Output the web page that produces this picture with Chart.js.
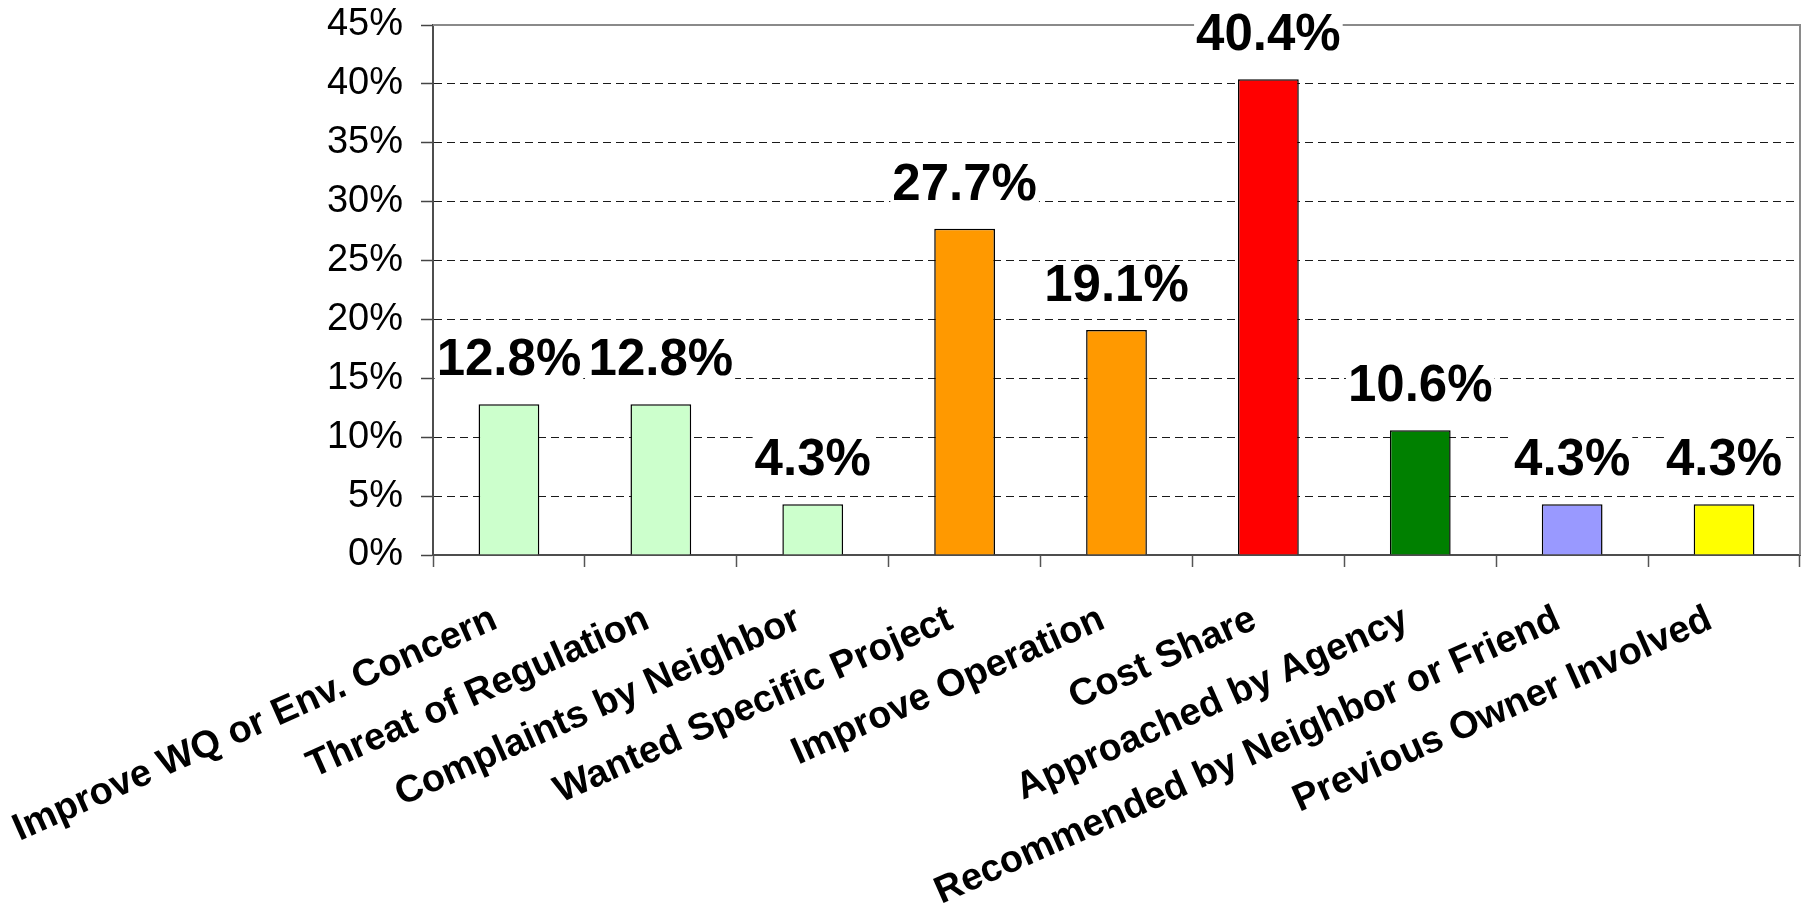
<!DOCTYPE html>
<html>
<head>
<meta charset="utf-8">
<title>Reasons for participation</title>
<script src="https://cdn.jsdelivr.net/npm/chart.js@4.4.1/dist/chart.umd.min.js"></script>
<style>
  html, body { margin: 0; padding: 0; background: #ffffff; }
  #wrap { width: 1808px; height: 912px; position: relative; }
</style>
</head>
<body>
<div id="wrap"><canvas id="chart"></canvas></div>
<script>
// Reasons given, share of respondents (%)
const categories = [
  'Improve WQ or Env. Concern',
  'Threat of Regulation',
  'Complaints by Neighbor',
  'Wanted Specific Project',
  'Improve Operation',
  'Cost Share',
  'Approached by Agency',
  'Recommended by Neighbor or Friend',
  'Previous Owner Involved'
];
const shares = [12.8, 12.8, 4.3, 27.7, 19.1, 40.4, 10.6, 4.3, 4.3];
const barColors = ['#CCFFCC', '#CCFFCC', '#CCFFCC', '#FF9900', '#FF9900', '#FF0000', '#008000', '#9999FF', '#FFFF00'];
const yTickValues = [0, 5, 10, 15, 20, 25, 30, 35, 40, 45];

const FONT = "'Liberation Sans', Arial, Helvetica, sans-serif";

// white page background
const backgroundPlugin = {
  id: 'pageBackground',
  beforeDraw(chart) {
    const ctx = chart.ctx;
    ctx.save();
    ctx.fillStyle = '#ffffff';
    ctx.fillRect(0, 0, chart.width, chart.height);
    ctx.restore();
  }
};

// grey frame along the top and right of the plot area
const framePlugin = {
  id: 'plotFrame',
  beforeDatasetsDraw(chart) {
    const {ctx, chartArea: a} = chart;
    ctx.save();
    ctx.strokeStyle = '#8a8a8a';
    ctx.lineWidth = 2;
    ctx.beginPath();
    ctx.moveTo(a.left, a.top);
    ctx.lineTo(a.right, a.top);
    ctx.lineTo(a.right, a.bottom);
    ctx.stroke();
    ctx.restore();
  }
};

// bold value labels above each bar, on a white patch
const valueLabelPlugin = {
  id: 'valueLabels',
  afterDraw(chart) {
    const ctx = chart.ctx;
    const meta = chart.getDatasetMeta(0);
    const values = chart.data.datasets[0].data;
    ctx.save();
    ctx.font = 'bold 51px ' + FONT;
    ctx.textAlign = 'center';
    ctx.textBaseline = 'alphabetic';
    meta.data.forEach((bar, i) => {
      const text = values[i].toFixed(1) + '%';
      const x = bar.x;
      const y = bar.y - 29;
      const w = ctx.measureText(text).width;
      ctx.fillStyle = '#ffffff';
      ctx.fillRect(x - w / 2 - 2, y - 40, w + 4, 45);
      ctx.fillStyle = '#000000';
      ctx.fillText(text, x, y);
    });
    ctx.restore();
  }
};

new Chart(document.getElementById('chart'), {
  type: 'bar',
  data: {
    labels: categories,
    datasets: [{
      data: shares,
      backgroundColor: barColors,
      borderColor: '#000000',
      borderWidth: 1.5,
      barPercentage: 0.4,
      categoryPercentage: 1.0
    }]
  },
  options: {
    responsive: true,
    maintainAspectRatio: false,
    animation: false,
    devicePixelRatio: 1,
    layout: { padding: { top: 25, right: 8, left: 0, bottom: 0 } },
    plugins: {
      legend: { display: false },
      tooltip: { enabled: false },
      title: { display: false }
    },
    scales: {
      x: {
        grid: {
          display: true,
          offset: true,
          drawOnChartArea: false,
          drawTicks: true,
          tickLength: 12,
          tickColor: '#555555',
          tickWidth: 1.5
        },
        border: { display: true, color: '#4d4d4d', width: 2 },
        ticks: {
          autoSkip: false,
          minRotation: 24,
          maxRotation: 24,
          padding: 30,
          labelOffset: -14,
          color: '#000000',
          font: { family: FONT, size: 38, weight: 'bold' }
        },
        afterFit(scale) {
          scale.height = 357;
          scale.paddingLeft = 0;
          scale.paddingRight = 0;
        }
      },
      y: {
        min: 0,
        max: 45,
        afterBuildTicks(scale) {
          scale.ticks = yTickValues.map(v => ({ value: v }));
        },
        grid: {
          display: true,
          color: '#1a1a1a',
          lineWidth: 1,
          drawTicks: true,
          tickLength: 12,
          tickColor: '#444444',
          tickWidth: 1.5
        },
        border: { display: true, color: '#4d4d4d', width: 2, dash: [8, 5] },
        ticks: {
          padding: 18,
          color: '#000000',
          font: { family: FONT, size: 38 },
          callback: v => v + '%'
        },
        afterFit(scale) {
          scale.width = 433;
          scale.paddingTop = 0;
          scale.paddingBottom = 0;
        }
      }
    }
  },
  plugins: [backgroundPlugin, framePlugin, valueLabelPlugin]
});
</script>
</body>
</html>
